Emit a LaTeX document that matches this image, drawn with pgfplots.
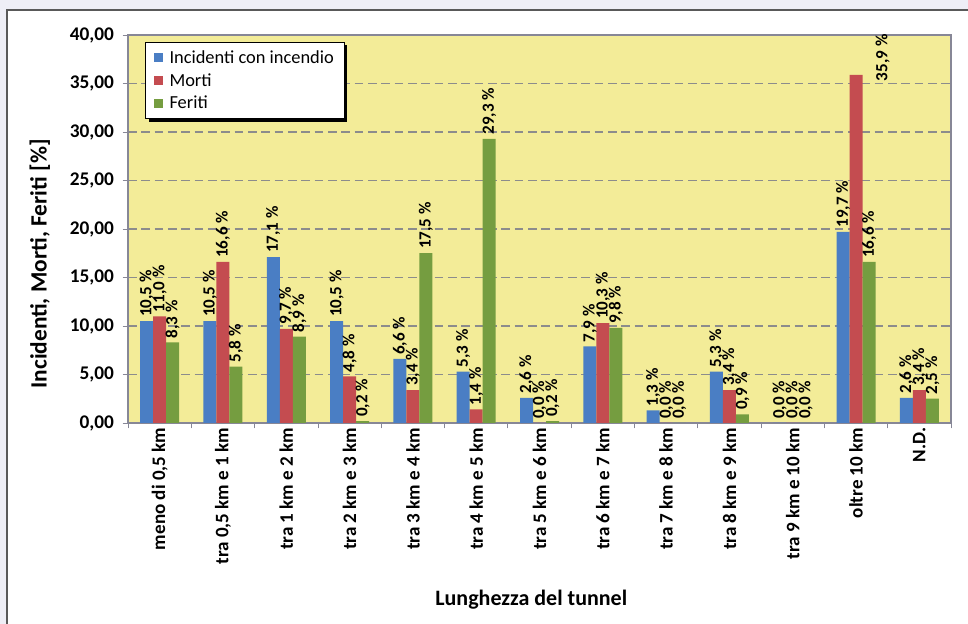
\documentclass[border=0pt]{standalone}
\usepackage{fontspec}
\setmainfont{Carlito}
\usepackage{pgfplots}
\usepackage{pgfplotstable}
\pgfplotsset{compat=1.18}
\usetikzlibrary{shadows}
\definecolor{bgl}{RGB}{238,238,246}
\definecolor{ybg}{RGB}{243,236,152}
\definecolor{cblue}{RGB}{74,126,196}
\definecolor{cred}{RGB}{196,76,80}
\definecolor{cgreen}{RGB}{117,157,64}
\definecolor{gridc}{RGB}{140,140,140}
\definecolor{axc}{RGB}{135,135,150}

\pgfplotstableread{
x inc mor fer ma mb
0 10.5 11.0 8.3 0 0
1 10.5 16.6 5.8 0 0
2 17.1 9.7 8.9 0 0
3 10.5 4.8 0.2 0 0
4 6.6 3.4 17.5 0 0
5 5.3 1.4 29.3 0 0
6 2.6 0.0 0.2 0 0
7 7.9 10.3 9.8 0 0
8 1.3 0.0 0.0 0 0
9 5.3 3.4 0.9 0 0
10 0.0 0.0 0.0 0 0
11 19.7 35.9 16.6 -8 -20
12 2.6 3.4 2.5 0 0
}\datatab

\pgfplotsset{
  mybar/.style={ybar, bar width=9.75pt, draw=none, fill=#1,
    legend image code/.code={\pgfsetfillcolor{#1}\pgfpathrectangle{\pgfpoint{0pt}{-3.4pt}}{\pgfpoint{6.8pt}{6.8pt}}\pgfusepath{fill}}},
}

\begin{document}
\begin{tikzpicture}
\useasboundingbox (0,0) rectangle (726pt,468pt);
\clip (0,0) rectangle (726pt,468pt);
\fill[bgl] (0,0) rectangle (726pt,468pt);
\filldraw[fill=white, draw=black!65, line width=0.9pt] (5.25pt,-10pt) rectangle (740pt,460.5pt);
\begin{axis}[
  at={(96pt,150.75pt)}, anchor=south west,
  scale only axis, width=617.25pt, height=291pt,
  ybar,
  ymin=0, ymax=40, ytick={0,5,...,40},
  xmin=-0.5, xmax=12.5,
  xtick={-0.5,0.5,...,12.5}, xticklabels={},
  extra x ticks={0,1,2,3,4,5,6,7,8,9,10,11,12},
  extra x tick labels={{meno di 0,5 km},{tra 0,5 km e 1 km},{tra 1 km e 2 km},{tra 2 km e 3 km},{tra 3 km e 4 km},{tra 4 km e 5 km},{tra 5 km e 6 km},{tra 6 km e 7 km},{tra 7 km e 8 km},{tra 8 km e 9 km},{tra 9 km e 10 km},{oltre 10 km},{N.D.}},
  extra x tick style={major tick length=0pt},
  x tick label style={rotate=90, anchor=east, font=\fontsize{14.3}{16}\selectfont\bfseries},
  y tick label style={font=\fontsize{14.5}{16}\selectfont\bfseries, xshift=-3pt,
     /pgf/number format/.cd, fixed, fixed zerofill, precision=2, use comma, assume math mode=true},
  /pgf/number format/assume math mode=true,
  tick align=outside, major tick length=4pt,
  xtick pos=bottom, ytick pos=left,
  tick style={draw=axc, line width=0.6pt},
  axis line style={draw=axc, line width=0.8pt},
  axis background/.style={fill=ybg},
  ymajorgrids, grid style={draw=gridc, dash pattern=on 6.5pt off 3.5pt, line width=0.9pt},
  xlabel={Lunghezza del tunnel},
  ylabel={Incidenti, Morti, Feriti [\%]},
  every axis x label/.style={at={(axis description cs:0.49,0)}, anchor=center, yshift=-132.75pt, font=\fontsize{16.5}{18}\selectfont\bfseries},
  every axis y label/.style={at={(axis description cs:-0.107,0.41)}, rotate=90, anchor=center, font=\fontsize{17.5}{19}\selectfont\bfseries},
  nodes near coords={\pgfmathprintnumber[fixed, fixed zerofill, precision=1, use comma, assume math mode=true]{\pgfplotspointmeta}~\%},
  every node near coord/.append style={rotate=90, anchor=west, font=\fontsize{12.8}{14}\selectfont\bfseries, text=black, inner sep=3pt},
  legend style={at={(0.021,0.982)}, anchor=north west, draw=black, line width=0.8pt, fill=white,
     font=\fontsize{13.8}{15}\selectfont, row sep=2pt, column sep=3pt, inner xsep=6pt, inner ysep=4pt,
     drop shadow={shadow xshift=2.2pt, shadow yshift=-2.2pt, fill=black, opacity=1}},
  legend cell align=left,
]
\addplot[mybar=cblue, bar shift=-9.75pt] table[x=x, y=inc] {\datatab};
\addplot[mybar=cred, bar shift=0pt,
  visualization depends on={\thisrow{ma} \as \ma},
  visualization depends on={\thisrow{mb} \as \mb},
  every node near coord/.append style={xshift=\ma pt, yshift=\mb pt}] table[x=x, y=mor] {\datatab};
\addplot[mybar=cgreen, bar shift=9.75pt] table[x=x, y=fer] {\datatab};
\legend{Incidenti con incendio, Morti, Feriti}
\end{axis}
\end{tikzpicture}
\end{document}
